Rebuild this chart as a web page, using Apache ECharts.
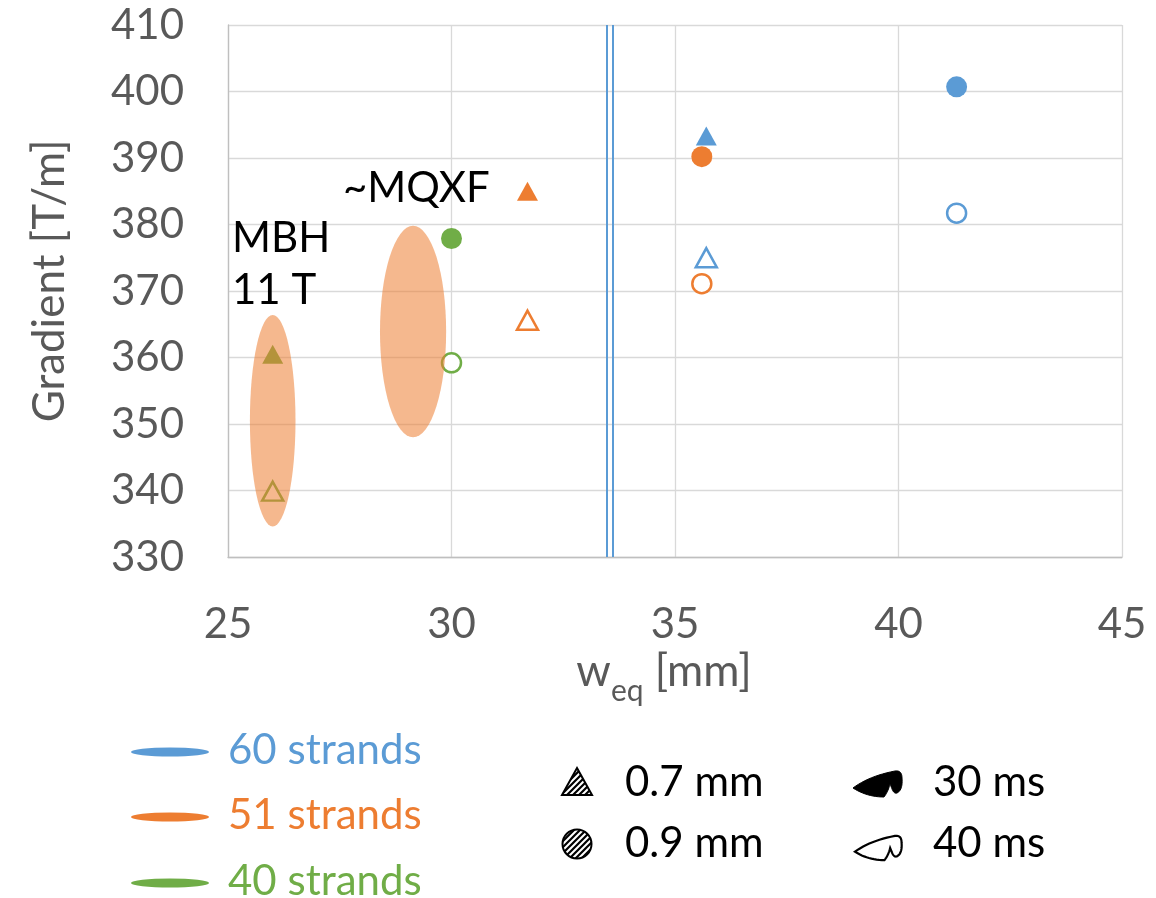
<!DOCTYPE html>
<html><head><meta charset="utf-8">
<script src="https://cdn.jsdelivr.net/npm/echarts@6/dist/echarts.min.js"></script>
<style>html,body{margin:0;padding:0;background:#fff}#c{width:1156px;height:898px}</style>
</head><body><div id="c"></div>
<script>
// ---- data ----
const xTicks = [25, 30, 35, 40, 45];
const yTicks = [330, 340, 350, 360, 370, 380, 390, 400, 410];
const strandLabels = ['60 strands', '51 strands', '40 strands'];
const diameterLabels = ['0.7 mm', '0.9 mm'];
const timeLabels = ['30 ms', '40 ms'];
// 60 strands (blue)
const s60_tri_30ms = [[35.7, 393.3]];
const s60_tri_40ms = [[35.7, 375.0]];
const s60_cir_30ms = [[41.3, 400.7]];
const s60_cir_40ms = [[41.3, 381.7]];
// 51 strands (orange)
const s51_tri_30ms = [[31.7, 385.0]];
const s51_tri_40ms = [[31.7, 365.6]];
const s51_cir_30ms = [[35.6, 390.2]];
const s51_cir_40ms = [[35.6, 371.1]];
// 40 strands (green)
const s40_tri_30ms = [[26.0, 360.5]];
const s40_tri_40ms = [[26.0, 339.9]];
const s40_cir_30ms = [[30.0, 377.9]];
const s40_cir_40ms = [[30.0, 359.2]];
// shaded regions: [centre x, centre y, half-width, half-height]
const regions = [[26.0, 350.5, 0.51, 15.9], [29.14, 363.9, 0.74, 15.9]];
// separator (double line)
const separatorX = [33.48, 33.6];
const annotations = ['MBH', '11 T', '~MQXF'];

// ---- style ----
const BLUE = '#5B9BD5', ORANGE = '#ED7D31', GREEN = '#70AD47';
const FONT = 'Lato, Carlito, Calibri, sans-serif';
const FS = 42;
const NFS = 44;

function sc(name, data, color, symbol, filled) {
  return {
    type: 'scatter', name: name, data: data, z: 2,
    symbol: symbol,
    symbolSize: symbol === 'triangle' ? [21, 19] : (filled ? 21 : 19),
    itemStyle: filled ? { color: color, opacity: 1 } :
      { color: '#fff', borderColor: color, borderWidth: 2.5, opacity: 1 },
    emphasis: { disabled: true }
  };
}

// hatch pattern
const pc = document.createElement('canvas');
pc.width = 6; pc.height = 6;
const pctx = pc.getContext('2d');
pctx.fillStyle = '#fff'; pctx.fillRect(0, 0, 6, 6);
pctx.strokeStyle = '#000'; pctx.lineWidth = 2.2;
pctx.beginPath();
pctx.moveTo(-1, 7); pctx.lineTo(7, -1);
pctx.moveTo(-4, 4); pctx.lineTo(4, -4);
pctx.moveTo(2, 10); pctx.lineTo(10, 2);
pctx.stroke();
const hatch = { image: pc, repeat: 'repeat' };

// legend blob outline (quadratic segments in a 50x28 box) -> polygon points
const blobSegs = [[[0,18],[16,6],[42,1]], [[42,1],[49,0],[49,8]], [[49,8],[50,20],[44,23]],
  [[44,23],[41,24],[39,19]], [[39,19],[38,16.5],[37,14]], [[37,14],[35,22],[31,27]], [[31,27],[14,27],[0,18]]];
function blobPoints(ox, oy, sx, sy) {
  const pts = [];
  blobSegs.forEach(seg => {
    for (let k = 0; k < 12; k++) {
      const t = k / 12, u = 1 - t;
      const x = u*u*seg[0][0] + 2*u*t*seg[1][0] + t*t*seg[2][0];
      const y = u*u*seg[0][1] + 2*u*t*seg[1][1] + t*t*seg[2][1];
      pts.push([ox + x*sx, oy + y*sy]);
    }
  });
  return pts;
}

const chart = echarts.init(document.getElementById('c'), null, { renderer: 'canvas' });

const legendColors = [BLUE, ORANGE, GREEN];
const legendY = [750, 815, 881];
const graphics = [];
strandLabels.forEach((t, i) => {
  graphics.push({ type: 'circle', x: 170, y: legendY[i] + 2, scaleX: 39, scaleY: 4.5,
    shape: { cx: 0, cy: 0, r: 1 }, style: { fill: legendColors[i] } });
  graphics.push({ type: 'text', x: 228, y: legendY[i],
    style: { text: t, fill: legendColors[i], font: FS + 'px ' + FONT, textVerticalAlign: 'middle' } });
});
// diameter legend
graphics.push({ type: 'polygon', shape: { points: [[577, 768], [592, 795], [562, 795]] },
  style: { fill: hatch, stroke: '#000', lineWidth: 2 } });
graphics.push({ type: 'circle', shape: { cx: 577, cy: 844, r: 14.5 },
  style: { fill: hatch, stroke: '#000', lineWidth: 2 } });
graphics.push({ type: 'text', x: 625, y: 782,
  style: { text: diameterLabels[0], fill: '#000', font: FS + 'px ' + FONT, textVerticalAlign: 'middle' } });
graphics.push({ type: 'text', x: 625, y: 843,
  style: { text: diameterLabels[1], fill: '#000', font: FS + 'px ' + FONT, textVerticalAlign: 'middle' } });
// time legend
graphics.push({ type: 'polygon', shape: { points: blobPoints(853, 770, 1, 1) },
  style: { fill: '#000', stroke: '#000', lineWidth: 1 } });
graphics.push({ type: 'polygon', shape: { points: blobPoints(855, 835, 0.95, 0.93) },
  style: { fill: '#fff', stroke: '#000', lineWidth: 2.2 } });
graphics.push({ type: 'text', x: 933, y: 782,
  style: { text: timeLabels[0], fill: '#000', font: FS + 'px ' + FONT, textVerticalAlign: 'middle' } });
graphics.push({ type: 'text', x: 933, y: 843,
  style: { text: timeLabels[1], fill: '#000', font: FS + 'px ' + FONT, textVerticalAlign: 'middle' } });
// annotations
graphics.push({ type: 'text', x: 232, y: 238, z: 10,
  style: { text: annotations[0], fill: '#000', font: FS + 'px ' + FONT, textVerticalAlign: 'middle' } });
graphics.push({ type: 'text', x: 232, y: 290, z: 10,
  style: { text: annotations[1], fill: '#000', font: FS + 'px ' + FONT, textVerticalAlign: 'middle' } });
graphics.push({ type: 'text', x: 343, y: 188, z: 10,
  style: { text: annotations[2], fill: '#000', font: FS + 'px ' + FONT, textVerticalAlign: 'middle' } });

const option = {
  backgroundColor: '#fff',
  animation: false,
  grid: { left: 228, right: 34, top: 25, bottom: 341, containLabel: false },
  xAxis: {
    type: 'value', min: xTicks[0], max: xTicks[xTicks.length - 1], interval: 5,
    axisLine: { show: true, lineStyle: { color: '#BFBFBF', width: 1.3 } },
    axisTick: { show: false },
    splitLine: { show: true, lineStyle: { color: '#D9D9D9', width: 1.3 } },
    axisLabel: { color: '#595959', fontSize: FS, fontFamily: FONT, margin: 46 },
    name: '{w|w}{s|eq}{w| [mm]}', nameLocation: 'middle', nameGap: 92,
    nameTextStyle: { padding: [0, 22, 0, 0], rich: {
      w: { fontSize: NFS, fontFamily: FONT, color: '#595959' },
      s: { fontSize: 30, fontFamily: FONT, color: '#595959', verticalAlign: 'bottom', padding: [0, 0, -12, 0] }
    } }
  },
  yAxis: {
    type: 'value', min: yTicks[0], max: yTicks[yTicks.length - 1], interval: 10,
    axisLine: { show: true, lineStyle: { color: '#BFBFBF', width: 1.3 } },
    axisTick: { show: false },
    splitLine: { show: true, lineStyle: { color: '#D9D9D9', width: 1.3 } },
    axisLabel: { color: '#595959', fontSize: FS, fontFamily: FONT, margin: 44 },
    name: 'Gradient [T/m]', nameLocation: 'middle', nameGap: 156,
    nameTextStyle: { color: '#595959', fontSize: NFS, fontFamily: FONT, padding: [0, 0, 0, 20] }
  },
  series: [
    sc('60 0.7 30', s60_tri_30ms, BLUE, 'triangle', true),
    sc('60 0.7 40', s60_tri_40ms, BLUE, 'triangle', false),
    sc('60 0.9 30', s60_cir_30ms, BLUE, 'circle', true),
    sc('60 0.9 40', s60_cir_40ms, BLUE, 'circle', false),
    sc('51 0.7 30', s51_tri_30ms, ORANGE, 'triangle', true),
    sc('51 0.7 40', s51_tri_40ms, ORANGE, 'triangle', false),
    sc('51 0.9 30', s51_cir_30ms, ORANGE, 'circle', true),
    sc('51 0.9 40', s51_cir_40ms, ORANGE, 'circle', false),
    sc('40 0.7 30', s40_tri_30ms, GREEN, 'triangle', true),
    sc('40 0.7 40', s40_tri_40ms, GREEN, 'triangle', false),
    sc('40 0.9 30', s40_cir_30ms, GREEN, 'circle', true),
    sc('40 0.9 40', s40_cir_40ms, GREEN, 'circle', false),
    {
      type: 'custom', name: 'regions', data: regions, z: 3, clip: false,
      renderItem: function (params, api) {
        const c = api.coord([api.value(0), api.value(1)]);
        const s = api.size([api.value(2), api.value(3)]);
        return { type: 'circle', x: c[0], y: c[1], scaleX: s[0], scaleY: s[1],
          shape: { cx: 0, cy: 0, r: 1 }, style: { fill: ORANGE, opacity: 0.55 } };
      },
      emphasis: { disabled: true }
    },
    {
      type: 'line', name: 'separator', data: [], z: 4,
      markLine: {
        symbol: ['none', 'none'], silent: true, label: { show: false },
        lineStyle: { color: BLUE, width: 2, type: 'solid' },
        data: separatorX.map(v => ({ xAxis: v }))
      }
    }
  ],
  graphic: graphics
};
chart.setOption(option);
</script></body></html>
